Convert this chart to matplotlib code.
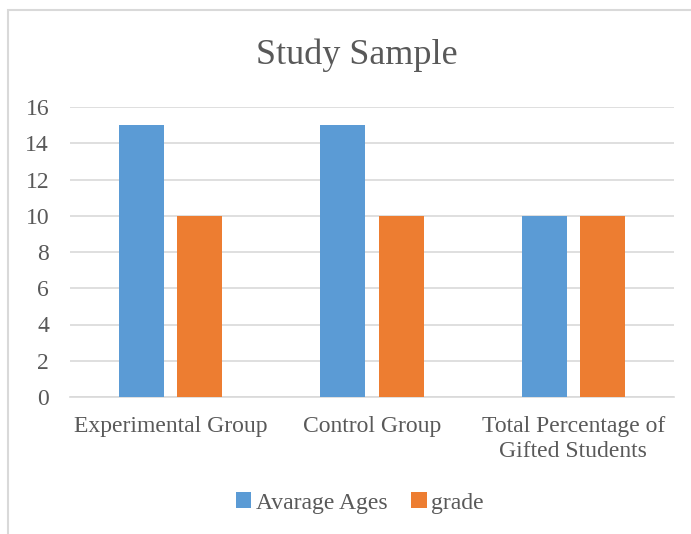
import numpy as np
import matplotlib.pyplot as plt
from matplotlib.patches import Rectangle

categories = ["Experimental Group", "Control Group", "Total Percentage of\nGifted Students"]
avarage_ages = [15, 15, 10]
grade = [10, 10, 10]
yticks = [0, 2, 4, 6, 8, 10, 12, 14, 16]

plt.rcParams['font.family'] = ['Liberation Serif', 'DejaVu Serif']
txt = '#595959'

fig = plt.figure(figsize=(6.91, 5.34), dpi=100)
ax = fig.add_axes([70/691, 1 - 397/534, (674-70)/691, (397-107)/534])

x = np.arange(len(categories))
w = 0.224
ax.bar(x - 0.1445, avarage_ages, w, color='#5B9BD5', label='Avarage Ages', zorder=3)
ax.bar(x + 0.1445, grade, w, color='#ED7D31', label='grade', zorder=3)

ax.set_xlim(-0.5, 2.5)
ax.set_ylim(0, 16)
ax.set_yticks(yticks)
ax.set_xticks(x)
ax.set_xticklabels(categories, fontsize=17, color=txt, linespacing=1.25)
ax.tick_params(axis='y', labelsize=17, labelcolor=txt, length=0, pad=15)
ax.tick_params(axis='x', length=0, pad=14)
ax.grid(axis='y', color='#D9D9D9', linewidth=1.2, zorder=0)
for s in ['top', 'right', 'left']:
    ax.spines[s].set_visible(False)
ax.spines['bottom'].set_color('#D9D9D9')
ax.spines['bottom'].set_linewidth(1.2)

fig.text(0.516, 1 - 55/534, "Study Sample", ha='center', va='center', fontsize=26, color=txt)

leg = fig.legend(loc='center', bbox_to_anchor=(0.521, 1 - 503/534), ncol=2, frameon=False,
                 fontsize=17, handlelength=0.65, handleheight=0.65, handletextpad=0.2,
                 columnspacing=1.0, labelcolor=txt)

# chart border (cut off on right and bottom)
fig.patches.append(Rectangle((8/691, -0.05), 1.1, 1 - 10/534 + 0.05, transform=fig.transFigure,
                             fill=False, edgecolor='#D9D9D9', linewidth=1.5))

fig.savefig('out.png', dpi=100)
